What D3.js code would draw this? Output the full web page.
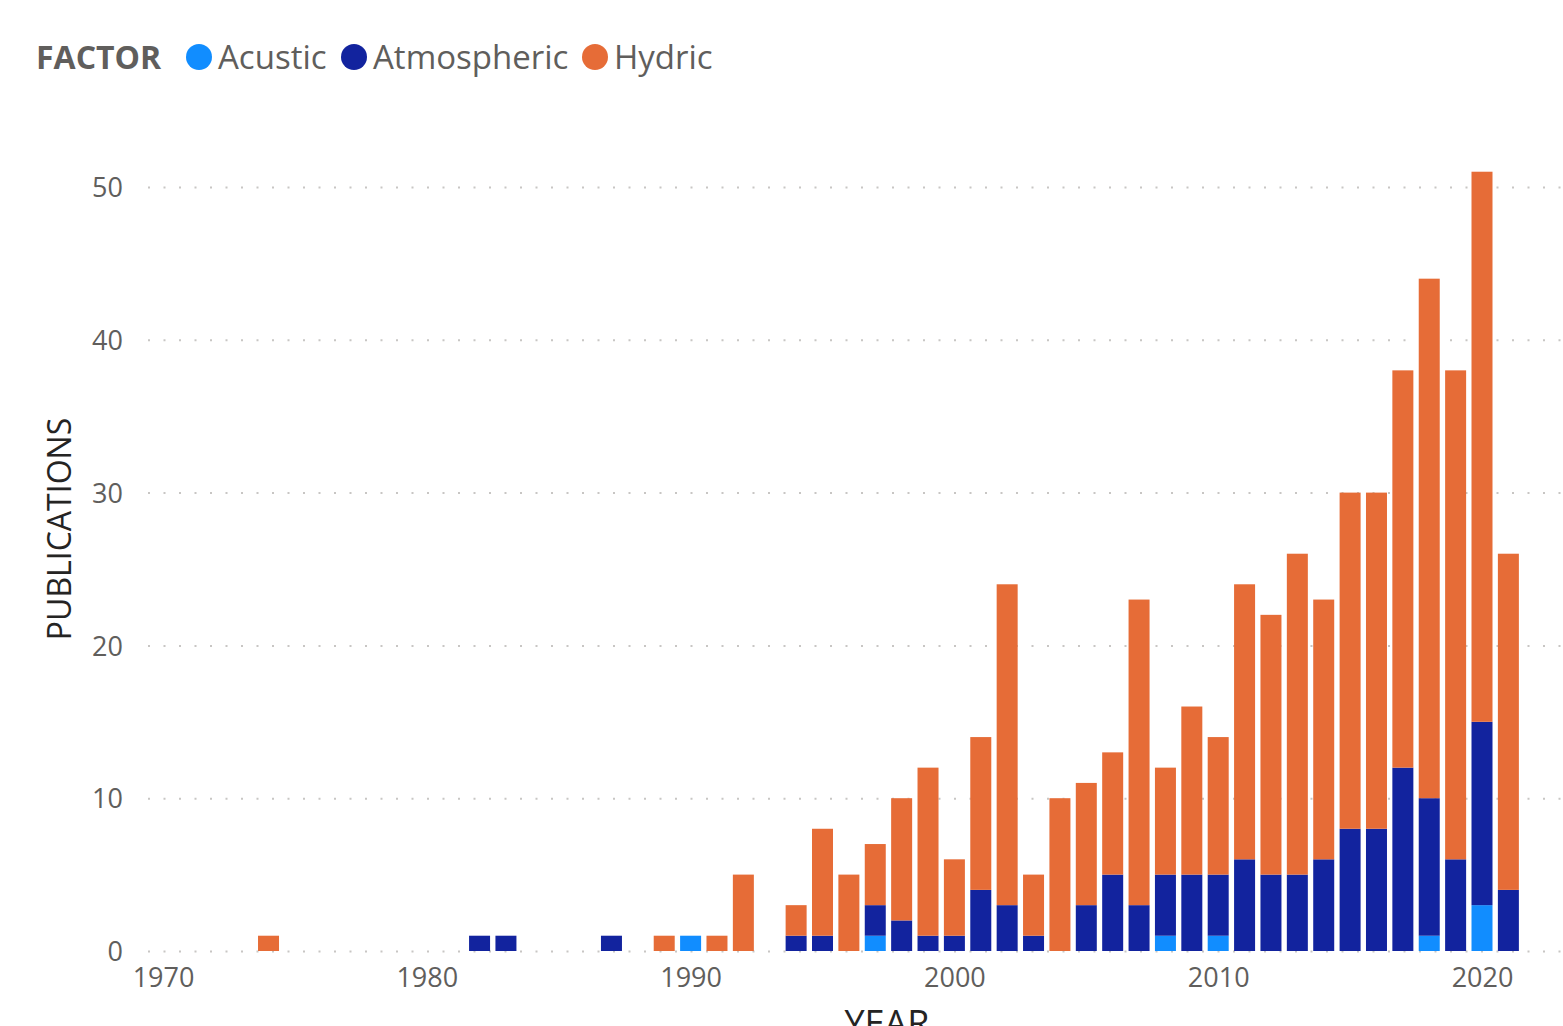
<!DOCTYPE html>
<html>
<head>
<meta charset="utf-8">
<script src="https://cdn.jsdelivr.net/npm/d3@7"></script>
<style>
  body { margin: 0; background: #fff; }
  text { font-family: "Open Sans", "Segoe UI", sans-serif; }
</style>
</head>
<body>
<svg id="chart" width="1563" height="1026"></svg>
<script>
// publications per year, split by factor
var years       = [1974, 1982, 1983, 1987, 1989, 1990, 1991, 1992, 1994, 1995, 1996, 1997, 1998, 1999, 2000, 2001, 2002, 2003, 2004, 2005, 2006, 2007, 2008, 2009, 2010, 2011, 2012, 2013, 2014, 2015, 2016, 2017, 2018, 2019, 2020, 2021];
var acustic     = [0,    0,    0,    0,    0,    1,    0,    0,    0,    0,    0,    1,    0,    0,    0,    0,    0,    0,    0,    0,    0,    0,    1,    0,    1,    0,    0,    0,    0,    0,    0,    0,    1,    0,    3,    0];
var atmospheric = [0,    1,    1,    1,    0,    0,    0,    0,    1,    1,    0,    2,    2,    1,    1,    4,    3,    1,    0,    3,    5,    3,    4,    5,    4,    6,    5,    5,    6,    8,    8,    12,   9,    6,    12,   4];
var hydric      = [1,    0,    0,    0,    1,    0,    1,    5,    2,    7,    5,    4,    8,    11,   5,    10,   21,   4,    10,   8,    8,    20,   7,    11,   9,    18,   17,   21,   17,   22,   22,   26,   34,   32,   36,   22];

var factors = ["Acustic", "Atmospheric", "Hydric"];
var factor_colors = ["#118DFF", "#12239E", "#E66C37"];
var y_ticks = [0, 10, 20, 30, 40, 50];
var x_ticks = [1970, 1980, 1990, 2000, 2010, 2020];

var rows = years.map(function(yr, i) {
  return { year: yr, Acustic: acustic[i], Atmospheric: atmospheric[i], Hydric: hydric[i] };
});

var svg = d3.select("#chart");
var color = d3.scaleOrdinal().domain(factors).range(factor_colors);

var x = d3.scaleLinear().domain([1970, 2020]).range([163, 1482]);
var y = d3.scaleLinear().domain([0, 50]).range([951, 187]);
var bar_w = 21;

// dotted gridlines
svg.append("g")
  .attr("transform", "translate(148,0)")
  .call(d3.axisLeft(y).tickValues(y_ticks).tickSize(-1415).tickFormat(""))
  .call(function(g) {
    g.select(".domain").remove();
    g.selectAll("line").attr("stroke", "#c8c6c4").attr("stroke-width", 2).attr("stroke-dasharray", "2,13.5");
  });

// y labels
svg.append("g")
  .attr("transform", "translate(123,0)")
  .call(d3.axisLeft(y).tickValues(y_ticks).tickSize(0).tickPadding(0))
  .call(function(g) {
    g.select(".domain").remove();
    g.selectAll("text").attr("fill", "#605E5C").style("font-size", "27px").attr("dy", "0.36em");
  });

// stacked bars
var series = d3.stack().keys(factors)(rows);
svg.append("g").selectAll("g")
  .data(series).enter().append("g")
  .attr("fill", function(d) { return color(d.key); })
  .selectAll("rect")
  .data(function(d) { return d.filter(function(p) { return p[1] > p[0]; }); })
  .enter().append("rect")
  .attr("x", function(d) { return x(d.data.year) - bar_w / 2; })
  .attr("y", function(d) { return y(d[1]); })
  .attr("width", bar_w)
  .attr("height", function(d) { return y(d[0]) - y(d[1]); });

// x labels
svg.append("g")
  .attr("transform", "translate(0,968)")
  .call(d3.axisBottom(x).tickValues(x_ticks).tickFormat(d3.format("d")).tickSize(0).tickPadding(0))
  .call(function(g) {
    g.select(".domain").remove();
    g.selectAll("text").attr("fill", "#605E5C").style("font-size", "27px").attr("dy", "0.71em");
  });

// axis titles (YEAR is clipped by the bottom edge, as in the original)
svg.append("text")
  .attr("x", 887).attr("y", 1036)
  .attr("text-anchor", "middle")
  .attr("fill", "#252423")
  .style("font-size", "36px")
  .text("YEAR");

svg.append("text")
  .attr("transform", "translate(71,529) rotate(-90)")
  .attr("text-anchor", "middle")
  .attr("fill", "#252423")
  .style("font-size", "32px")
  .text("PUBLICATIONS");

// legend
var legend = svg.append("g").attr("transform", "translate(0,57)");
legend.append("text")
  .attr("x", 36).attr("dy", "0.36em")
  .attr("fill", "#605E5C")
  .style("font-size", "32px").style("font-weight", "bold")
  .text("FACTOR");
var legend_x = [199, 354, 595];
factors.forEach(function(f, i) {
  legend.append("circle").attr("cx", legend_x[i]).attr("cy", 0).attr("r", 13).attr("fill", color(f));
  legend.append("text")
    .attr("x", legend_x[i] + 19).attr("dy", "0.36em")
    .attr("fill", "#605E5C")
    .style("font-size", "33px")
    .text(f);
});
</script>
</body>
</html>
